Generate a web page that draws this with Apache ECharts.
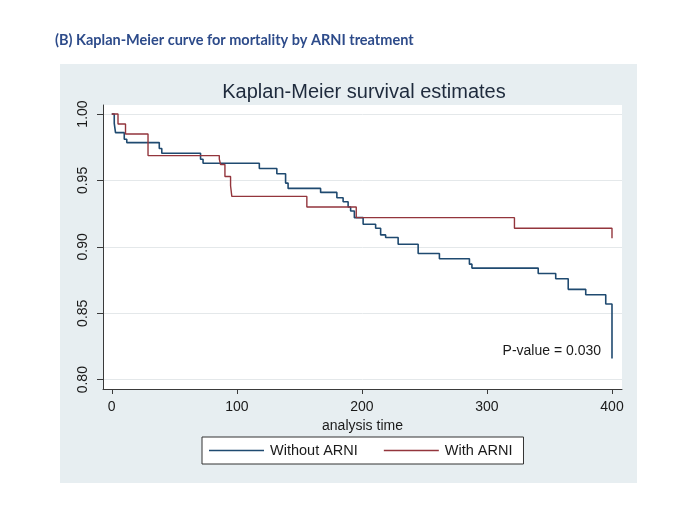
<!DOCTYPE html>
<html>
<head>
<meta charset="utf-8">
<script src="https://cdn.jsdelivr.net/npm/echarts@6/dist/echarts.min.js"></script>
<style>
  html, body { margin: 0; padding: 0; background: #ffffff; }
  #chart { width: 680px; height: 520px; }
</style>
</head>
<body>
<div id="chart"></div>
<script>
// ---- data ----
const seriesNames = ['Without ARNI', 'With ARNI'];
const xTicks = [0, 100, 200, 300, 400];
const yTicks = [0.80, 0.85, 0.90, 0.95, 1.00];
// Kaplan-Meier steps: [time, survival after the event]
const withoutARNI = [
  [0, 1.000], [2, 0.993], [3, 0.986], [10, 0.981], [12, 0.9785],
  [38, 0.974], [40, 0.9705], [71, 0.966], [73, 0.963], [118, 0.959],
  [132, 0.955], [139, 0.948], [141, 0.944], [167, 0.941], [180, 0.937],
  [185, 0.934], [189, 0.930], [191, 0.927], [194, 0.922], [201, 0.917],
  [211, 0.914], [215, 0.909], [219, 0.907], [229, 0.902], [245, 0.895],
  [262, 0.891], [286, 0.887], [288, 0.884], [341, 0.880], [355, 0.876],
  [365, 0.868], [379, 0.864], [395, 0.857], [400, 0.816]
];
const withARNI = [
  [0, 1.000], [5, 0.9925], [11, 0.985], [29, 0.9687], [86, 0.966],
  [87, 0.962], [90.5, 0.953], [95, 0.946], [96, 0.938], [156, 0.930],
  [195.5, 0.922], [322, 0.914], [400, 0.9065]
];
const headerText = '(B) Kaplan-Meier curve for mortality by ARNI treatment';
const chartTitle = 'Kaplan-Meier survival estimates';
const xAxisName = 'analysis time';
const pValueText = 'P-value = 0.030';

const chart = echarts.init(document.getElementById('chart'), null, { renderer: 'canvas' });
const axisColor = '#3a3a3a';
const labelColor = '#1a1a1a';
const font = '"Liberation Sans", Arial, sans-serif';

chart.setOption({
  animation: false,
  backgroundColor: '#ffffff',
  graphic: [
    {
      type: 'rect', z: -100,
      shape: { x: 60, y: 64, width: 577, height: 419 },
      style: { fill: '#e7eef1' }
    },
    {
      type: 'text', z: 100,
      style: {
        text: pValueText, x: 601, y: 351,
        align: 'right', verticalAlign: 'middle',
        fill: labelColor, font: '14px ' + font
      }
    }
  ],
  title: [
    {
      text: headerText, left: 55, top: 33, padding: 0,
      textStyle: { fontFamily: 'Lato', fontWeight: 'bold', fontSize: 14.5, color: '#2d4b8a' }
    },
    {
      text: chartTitle, left: 364, top: 82, padding: 0, textAlign: 'center',
      textStyle: { fontFamily: font, fontWeight: 'normal', fontSize: 20, color: '#1e2a3c' }
    }
  ],
  legend: {
    data: seriesNames,
    left: 202, top: 437,
    orient: 'horizontal',
    icon: 'rect', itemWidth: 55, itemHeight: 1.5, itemGap: 26,
    padding: [6, 11, 6, 7],
    borderColor: '#333', borderWidth: 1, backgroundColor: '#ffffff',
    textStyle: { fontFamily: font, fontSize: 14.5, color: labelColor, padding: [0, 0, 0, 1] }
  },
  grid: {
    left: 103, right: 58, top: 105, bottom: 131,
    show: true, backgroundColor: '#ffffff', borderWidth: 0
  },
  xAxis: {
    type: 'value', min: -7, max: 408,
    name: xAxisName, nameLocation: 'middle', nameGap: 22,
    nameTextStyle: { fontFamily: font, fontSize: 14, color: labelColor },
    axisLine: { show: true, onZero: false, lineStyle: { color: axisColor, width: 1 } },
    axisTick: { show: true, length: 5, inside: false, customValues: xTicks, lineStyle: { color: axisColor } },
    axisLabel: { customValues: xTicks, margin: 11, fontFamily: font, fontSize: 14, color: labelColor },
    splitLine: { show: false }
  },
  yAxis: {
    type: 'value', min: 0.793, max: 1.0068,
    axisLine: { show: true, onZero: false, lineStyle: { color: axisColor, width: 1 } },
    axisTick: { show: true, length: 6, inside: false, customValues: yTicks, lineStyle: { color: axisColor } },
    axisLabel: {
      customValues: yTicks, rotate: 90, margin: 13,
      formatter: v => v.toFixed(2),
      fontFamily: font, fontSize: 14, color: labelColor
    },
    splitLine: { show: true, lineStyle: { color: '#e4e8ea', width: 1 } }
  },
  series: [
    {
      name: seriesNames[0], type: 'line', step: 'end', data: withoutARNI,
      symbol: 'none', color: '#1f4a70',
      lineStyle: { width: 1.6, color: '#1f4a70' }
    },
    {
      name: seriesNames[1], type: 'line', step: 'end', data: withARNI,
      symbol: 'none', color: '#93353c',
      lineStyle: { width: 1.4, color: '#93353c' }
    }
  ]
});
</script>
</body>
</html>
